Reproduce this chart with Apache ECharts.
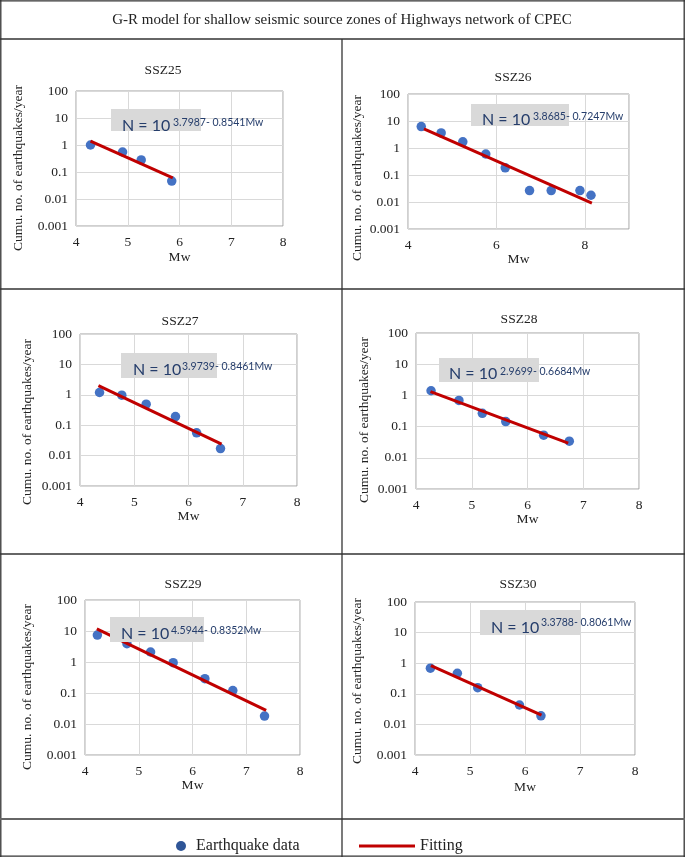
<!DOCTYPE html>
<html><head><meta charset="utf-8">
<script src="https://cdn.jsdelivr.net/npm/echarts@6/dist/echarts.min.js"></script>
<style>html,body{margin:0;padding:0;background:#fff}#chart{width:685px;height:857px}</style>
</head><body><div id="chart"></div>
<script>
// ---------------- DATA ----------------
const mainTitle = 'G-R model for shallow seismic source zones of Highways network of CPEC';
const zoneNames = ['SSZ25', 'SSZ26', 'SSZ27', 'SSZ28', 'SSZ29', 'SSZ30'];
const yTickLabels = ['0.001', '0.01', '0.1', '1', '10', '100'];
const xTickLabels = [
  ['4', '5', '6', '7', '8'],
  ['4', '6', '8'],
  ['4', '5', '6', '7', '8'],
  ['4', '5', '6', '7', '8'],
  ['4', '5', '6', '7', '8'],
  ['4', '5', '6', '7', '8']
];
const xMax = [8, 9, 8, 8, 8, 8];
const xStep = [1, 2, 1, 1, 1, 1];

const mw25 = [4.28, 4.90, 5.26, 5.85];
const n25  = [1.0, 0.55, 0.28, 0.046];
const mw26 = [4.30, 4.75, 5.24, 5.76, 6.20, 6.75, 7.24, 7.89, 8.14];
const n26  = [6.2, 3.6, 1.7, 0.6, 0.185, 0.0265, 0.0265, 0.0265, 0.0178];
const mw27 = [4.36, 4.77, 5.22, 5.76, 6.15, 6.59];
const n27  = [1.19, 0.975, 0.49, 0.193, 0.056, 0.017];
const mw28 = [4.27, 4.77, 5.19, 5.61, 6.29, 6.75];
const n28  = [1.41, 0.69, 0.267, 0.145, 0.053, 0.034];
const mw29 = [4.23, 4.78, 5.22, 5.64, 6.23, 6.75, 7.34];
const n29  = [7.4, 3.9, 2.1, 0.95, 0.29, 0.12, 0.018];
const mw30 = [4.28, 4.77, 5.14, 5.90, 6.29];
const n30  = [0.69, 0.47, 0.158, 0.043, 0.019];

// fitted line end points
const fitMw25 = [4.28, 5.87]; const fitN25 = [1.39, 0.061];
const fitMw26 = [4.36, 8.16]; const fitN26 = [5.11, 0.009];
const fitMw27 = [4.34, 6.61]; const fitN27 = [2.0, 0.024];
const fitMw28 = [4.26, 6.73]; const fitN28 = [1.33, 0.0296];
const fitMw29 = [4.22, 7.37]; const fitN29 = [11.7, 0.0275];
const fitMw30 = [4.29, 6.30]; const fitN30 = [0.83, 0.020];

const eqExponents = ['3.7987- 0.8541Mw', '3.8685- 0.7247Mw', '3.9739- 0.8461Mw',
                     '2.9699- 0.6684Mw', '4.5944- 0.8352Mw', '3.3788- 0.8061Mw'];
const eqBase = 'N = 10';
const xName = 'Mw';
const yName = 'Cumu. no. of earthquakes/year';
const legendPoints = 'Earthquake data';
const legendFit = 'Fitting';

const mwAll = [mw25, mw26, mw27, mw28, mw29, mw30];
const nAll = [n25, n26, n27, n28, n29, n30];
const fitMwAll = [fitMw25, fitMw26, fitMw27, fitMw28, fitMw29, fitMw30];
const fitNAll = [fitN25, fitN26, fitN27, fitN28, fitN29, fitN30];

// ---------------- LAYOUT ----------------
const layout = [
  {grid: [76, 91, 207, 135],  gap: 24, yName: [18, 168],  title: [163, 70],  box: [111, 109, 90, 22],  nPos: [122, 126], sPos: [173, 123]},
  {grid: [408, 94, 221, 135], gap: 21, yName: [357, 178], title: [513, 77],  box: [471, 104, 98, 22],  nPos: [482, 120], sPos: [533, 117]},
  {grid: [80, 334, 217, 152], gap: 22, yName: [27, 422],  title: [180, 321], box: [121, 353, 96, 25],  nPos: [133, 370], sPos: [182, 367]},
  {grid: [416, 333, 223, 156],gap: 23, yName: [364, 420], title: [519, 319], box: [439, 358, 100, 24], nPos: [449, 374], sPos: [500, 372]},
  {grid: [85, 600, 215, 155], gap: 23, yName: [27, 687],  title: [183, 584], box: [110, 617, 94, 25],  nPos: [121, 634], sPos: [171, 631]},
  {grid: [415, 602, 220, 153],gap: 25, yName: [357, 681], title: [518, 584], box: [480, 610, 100, 25], nPos: [491, 628], sPos: [541, 623]}
];

const SERIF = 'Liberation Serif';
const SANS = 'Lato';
const TXT = '#222';
const EQ = '#253D6B';

const grids = [], xAxes = [], yAxes = [], series = [], graphics = [];

layout.forEach((L, i) => {
  grids.push({left: L.grid[0], top: L.grid[1], width: L.grid[2], height: L.grid[3],
    show: true, borderColor: '#A0A0A0', borderWidth: 1, backgroundColor: 'transparent'});
  const xt = xTickLabels[i];
  xAxes.push({type: 'value', gridIndex: i, min: 4, max: xMax[i], interval: xStep[i],
    name: xName, nameLocation: 'middle', nameGap: L.gap,
    nameTextStyle: {fontFamily: SERIF, fontSize: 13.5, color: TXT},
    axisLine: {show: false}, axisTick: {show: false},
    axisLabel: {margin: 9, fontFamily: SERIF, fontSize: 13.5, color: TXT,
      formatter: v => (xt.indexOf(String(v)) >= 0 ? String(v) : '')},
    splitLine: {show: true, lineStyle: {color: '#D9D9D9', width: 1}}});
  yAxes.push({type: 'log', logBase: 10, gridIndex: i, min: 0.001, max: 100,
    axisLine: {show: false}, axisTick: {show: false},
    axisLabel: {margin: 8, fontFamily: SERIF, fontSize: 13.5, color: TXT,
      formatter: v => yTickLabels[Math.round(Math.log10(v)) + 3] || ''},
    splitLine: {show: true, lineStyle: {color: '#D9D9D9', width: 1}}});
  series.push({type: 'line', name: legendFit, xAxisIndex: i, yAxisIndex: i,
    data: fitMwAll[i].map((m, k) => [m, fitNAll[i][k]]),
    symbol: 'none', lineStyle: {color: '#C00000', width: 3}, itemStyle: {color: '#C00000'},
    silent: true, animation: false});
  series.push({type: 'scatter', name: legendPoints, xAxisIndex: i, yAxisIndex: i,
    data: mwAll[i].map((m, k) => [m, nAll[i][k]]),
    symbolSize: 9.5, itemStyle: {color: '#4472C4', opacity: 1}, animation: false});

  graphics.push({type: 'text', x: L.title[0], y: L.title[1],
    style: {text: zoneNames[i], fill: TXT, font: '13.5px ' + SERIF, align: 'center', verticalAlign: 'middle'}});
  graphics.push({type: 'text', x: L.yName[0], y: L.yName[1], rotation: Math.PI / 2,
    style: {text: yName, fill: TXT, font: '13.5px ' + SERIF, align: 'center', verticalAlign: 'middle'}});
  graphics.push({type: 'rect', shape: {x: L.box[0], y: L.box[1], width: L.box[2], height: L.box[3]},
    style: {fill: '#D9D9D9'}});
  graphics.push({type: 'text', x: L.nPos[0], y: L.nPos[1],
    style: {text: eqBase, fill: EQ, font: '16px ' + SANS, align: 'left', verticalAlign: 'middle'}});
  graphics.push({type: 'text', x: L.sPos[0], y: L.sPos[1],
    style: {text: eqExponents[i], fill: EQ, font: '10.5px ' + SANS, align: 'left', verticalAlign: 'middle'}});
});

// table frame
const lineColor = '#333';
function hline(y, x1, x2, w, c) { graphics.push({type: 'line', shape: {x1: x1, y1: y, x2: x2, y2: y}, style: {stroke: c || lineColor, lineWidth: w || 1.3}}); }
function vline(x, y1, y2, w, c) { graphics.push({type: 'line', shape: {x1: x, y1: y1, x2: x, y2: y2}, style: {stroke: c || lineColor, lineWidth: w || 1.3}}); }
hline(0.8, 0, 685); hline(856.2, 0, 685);
vline(0.8, 0, 857); vline(684.2, 0, 857);
hline(39, 0, 685); hline(289, 0, 685); hline(554, 0, 685); hline(819, 0, 685, 2.2, '#666');
vline(342, 39, 857);
graphics.push({type: 'text', x: 342, y: 20,
  style: {text: mainTitle, fill: TXT, font: '15px ' + SERIF, align: 'center', verticalAlign: 'middle'}});

const chart = echarts.init(document.getElementById('chart'), null, {renderer: 'canvas'});
chart.setOption({
  animation: false,
  backgroundColor: '#fff',
  textStyle: {fontFamily: SERIF},
  grid: grids, xAxis: xAxes, yAxis: yAxes, series: series,
  legend: [
    {data: [{name: legendPoints, itemStyle: {color: '#2F5597'}}], left: 176, top: 838, padding: 0,
      icon: 'circle', itemWidth: 10, itemHeight: 11,
      textStyle: {fontFamily: SERIF, fontSize: 16, color: TXT, padding: [0, 0, 0, 5]}},
    {data: [legendFit], left: 359, top: 838, padding: 0,
      icon: 'rect', itemWidth: 56, itemHeight: 3,
      textStyle: {fontFamily: SERIF, fontSize: 16, color: TXT}}
  ],
  graphic: {elements: graphics.map(g => Object.assign({silent: true, z: 100}, g))}
});
</script>
</body></html>
